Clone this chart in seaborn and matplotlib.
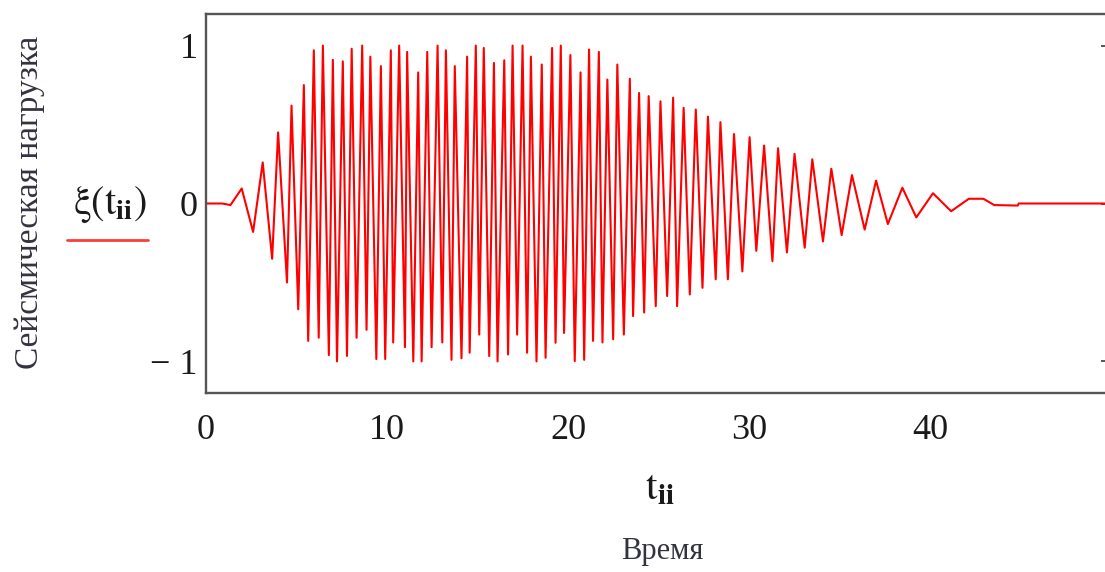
import matplotlib
matplotlib.use("Agg")
import matplotlib.pyplot as plt
from matplotlib.lines import Line2D
import pandas as pd
import seaborn as sns

# ---- data: extremes of the seismic load curve ----
t_start = [0.0, 0.9, 1.35, 1.97, 2.6, 3.13, 3.65, 3.98, 4.47, 4.72, 5.09, 5.40,
           5.64, 5.95, 6.22, 6.45, 6.78, 7.0, 7.23, 7.55, 7.78, 8.04, 8.31, 8.62,
           8.86, 9.07, 9.40, 9.65, 9.89, 10.20]
xi_start = [0.0, 0.0, -0.01, 0.095, -0.18, 0.26, -0.35, 0.45, -0.50, 0.62, -0.67, 0.75,
            -0.87, 0.97, -0.85, 1.0, -0.96, 0.91, -1.0, 0.90, -0.965, 0.98, -0.85, 1.0,
            -0.80, 0.93, -0.985, 0.87, -0.985, 0.97]

t_mid = [10.33, 10.66, 10.98, 11.10, 11.44, 11.71, 11.90, 12.21, 12.45, 12.78,
         13.04, 13.24, 13.55, 13.73, 14.10, 14.41, 14.55, 14.89, 15.08, 15.33,
         15.63, 15.89, 16.09, 16.46, 16.67, 16.92, 17.17, 17.47, 17.72, 17.93,
         18.24, 18.53, 18.74, 19.10, 19.29, 19.58, 19.76, 20.11, 20.35, 20.67,
         20.87, 21.14]
xi_mid = [-0.88, 1.0, -0.91, 0.96, -1.0, 0.83, -1.0, 0.96, -0.91, 1.0,
          -0.88, 0.97, -0.99, 0.87, -0.98, 0.93, -0.945, 1.0, -0.83, 0.985,
          -0.966, 0.89, -1.0, 0.907, -0.956, 1.0, -0.83, 1.0, -0.945, 0.93,
          -1.0, 0.88, -0.977, 0.985, -0.882, 1.0, -0.82, 0.94, -0.998, 0.83,
          -0.99, 0.975]

t_late = [21.36, 21.68, 21.88, 22.15, 22.47, 22.70, 23.06, 23.39, 23.57, 23.90,
          24.18, 24.43, 24.82, 25.08, 25.45, 25.78, 26.00, 26.36, 26.70, 27.03,
          27.40, 27.70, 28.13, 28.39, 28.80, 29.14, 29.60, 30.00, 30.37, 30.80,
          31.26, 31.57]
xi_late = [-0.87, 0.96, -0.88, 0.785, -0.86, 0.88, -0.83, 0.79, -0.713, 0.70,
           -0.69, 0.68, -0.65, 0.647, -0.586, 0.67, -0.65, 0.606, -0.576, 0.595,
           -0.534, 0.55, -0.48, 0.515, -0.48, 0.44, -0.43, 0.42, -0.30, 0.367,
           -0.365, 0.35]

t_tail = [32.06, 32.48, 33.04, 33.46, 34.05, 34.51, 35.08, 35.65, 36.35, 36.98,
          37.63, 38.43, 39.20, 40.12, 41.12, 42.10, 42.90, 43.50, 44.80, 44.85, 50.0]
xi_tail = [-0.31, 0.314, -0.28, 0.28, -0.24, 0.22, -0.20, 0.18, -0.165, 0.145,
           -0.13, 0.10, -0.088, 0.065, -0.049, 0.03, 0.03, -0.01, -0.013, 0.0, 0.0]

x_ticks = [0, 10, 20, 30, 40]
y_ticks = [-1, 0, 1]
y_tick_labels = ["\u2212 1", "0", "1"]
x_limits = [0, 50]
y_limits = [-1.2, 1.2]

curve_label = r"$\mathrm{\xi}\left(\mathrm{t}_{\mathbf{ii}}\right)$"
x_var_label = r"$\mathrm{t}_{\mathbf{ii}}$"
x_title = "Время"
y_title = "Сейсмическая нагрузка"

t_ii = t_start + t_mid + t_late + t_tail
xi = xi_start + xi_mid + xi_late + xi_tail
df = pd.DataFrame({"t": t_ii, "xi": xi})

# ---- style ----
sns.set_style("white")
plt.rcParams["font.family"] = ["Liberation Serif", "DejaVu Serif"]
plt.rcParams["mathtext.fontset"] = "stix"

W, H = 1105, 572
fig = plt.figure(figsize=(W / 100, H / 100), dpi=100)
fig.patch.set_facecolor("white")
ax = fig.add_axes([206 / W, 1 - 393 / H, 906 / W, 379 / H])

sns.lineplot(data=df, x="t", y="xi", ax=ax, color="#ff0000", linewidth=1.5,
             estimator=None, sort=False)

ax.set_xlim(*x_limits)
ax.set_ylim(*y_limits)
ax.set_xticks(x_ticks)
ax.set_yticks(y_ticks)
ax.set_yticklabels(y_tick_labels)
ax.set_xlabel("")
ax.set_ylabel("")

spine_col = "#555555"
for s in ax.spines.values():
    s.set_color(spine_col)
    s.set_linewidth(1.7)
ax.tick_params(direction="in", length=8, width=1.4, color=spine_col,
               labelsize=26, labelcolor="#1a1a1a")
ax.tick_params(axis="x", pad=15)
ax.tick_params(axis="y", right=True, pad=6)

# left-side labels
fig.text(30 / W, 1 - 202 / H, y_title, rotation=90, ha="center", va="center",
         fontsize=24, color="#333340")
fig.text(110 / W, 1 - 205 / H, curve_label, ha="center", va="center",
         fontsize=29, color="#1a1a1a")
fig.add_artist(Line2D([67 / W, 148 / W], [1 - 240 / H, 1 - 240 / H],
                      color="#ff3b3b", linewidth=2.0, transform=fig.transFigure))

# bottom labels
fig.text(660 / W, 1 - 489 / H, x_var_label, ha="center", va="center",
         fontsize=30, color="#1a1a1a")
fig.text(662 / W, 1 - 552 / H, x_title, ha="center", va="center",
         fontsize=22, color="#333340")

fig.savefig("out.png", dpi=100, facecolor="white")
